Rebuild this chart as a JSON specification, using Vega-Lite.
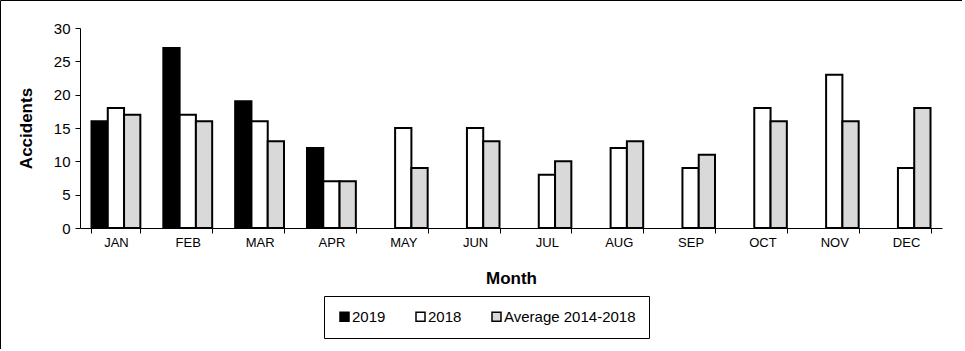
{
  "$schema": "https://vega.github.io/schema/vega-lite/v6.json",
  "width": 962,
  "height": 349,
  "autosize": {"type": "none"},
  "padding": 0,
  "background": "white",
  "data": {
    "values": [
      {"month": "JAN", "series": "2019", "value": 16},
      {"month": "JAN", "series": "2018", "value": 18},
      {"month": "JAN", "series": "Average 2014-2018", "value": 17},
      {"month": "FEB", "series": "2019", "value": 27},
      {"month": "FEB", "series": "2018", "value": 17},
      {"month": "FEB", "series": "Average 2014-2018", "value": 16},
      {"month": "MAR", "series": "2019", "value": 19},
      {"month": "MAR", "series": "2018", "value": 16},
      {"month": "MAR", "series": "Average 2014-2018", "value": 13},
      {"month": "APR", "series": "2019", "value": 12},
      {"month": "APR", "series": "2018", "value": 7},
      {"month": "APR", "series": "Average 2014-2018", "value": 7},
      {"month": "MAY", "series": "2018", "value": 15},
      {"month": "MAY", "series": "Average 2014-2018", "value": 9},
      {"month": "JUN", "series": "2018", "value": 15},
      {"month": "JUN", "series": "Average 2014-2018", "value": 13},
      {"month": "JUL", "series": "2018", "value": 8},
      {"month": "JUL", "series": "Average 2014-2018", "value": 10},
      {"month": "AUG", "series": "2018", "value": 12},
      {"month": "AUG", "series": "Average 2014-2018", "value": 13},
      {"month": "SEP", "series": "2018", "value": 9},
      {"month": "SEP", "series": "Average 2014-2018", "value": 11},
      {"month": "OCT", "series": "2018", "value": 18},
      {"month": "OCT", "series": "Average 2014-2018", "value": 16},
      {"month": "NOV", "series": "2018", "value": 23},
      {"month": "NOV", "series": "Average 2014-2018", "value": 16},
      {"month": "DEC", "series": "2018", "value": 9},
      {"month": "DEC", "series": "Average 2014-2018", "value": 18}
    ]
  },
  "mark": {"type": "bar", "stroke": "black", "strokeWidth": 2},
  "encoding": {
    "x": {
      "field": "month",
      "type": "nominal",
      "sort": ["JAN", "FEB", "MAR", "APR", "MAY", "JUN", "JUL", "AUG", "SEP", "OCT", "NOV", "DEC"],
      "scale": {"range": [80, 942], "paddingInner": 0.32, "paddingOuter": 0.16},
      "axis": {
        "title": "Month",
        "offset": -121,
        "labelAngle": 0,
        "tickBand": "extent",
        "labelFontSize": 13,
        "labelPadding": 3,
        "titleFontSize": 17,
        "titleFontWeight": "bold",
        "titlePadding": 21
      }
    },
    "xOffset": {
      "field": "series",
      "type": "nominal",
      "sort": ["2019", "2018", "Average 2014-2018"],
      "scale": {"domain": ["2019", "2018", "Average 2014-2018"], "paddingInner": 0, "paddingOuter": 0}
    },
    "y": {
      "field": "value",
      "type": "quantitative",
      "scale": {"domain": [0, 30], "range": [228, 28], "nice": false},
      "axis": {
        "title": "Accidents",
        "offset": -80,
        "values": [0, 5, 10, 15, 20, 25, 30],
        "grid": false,
        "labelFontSize": 15,
        "labelPadding": 5,
        "titleFontSize": 17,
        "titleFontWeight": "bold",
        "titlePadding": 18
      }
    },
    "fill": {
      "field": "series",
      "type": "nominal",
      "scale": {"domain": ["2019", "2018", "Average 2014-2018"], "range": ["black", "white", "#d9d9d9"]},
      "legend": {
        "orient": "none",
        "legendX": 324,
        "legendY": 296,
        "direction": "horizontal",
        "title": null,
        "strokeColor": "black",
        "fillColor": "white",
        "padding": 13,
        "labelFontSize": 15,
        "labelOffset": 0,
        "columnPadding": 27,
        "symbolType": "square",
        "symbolSize": 81,
        "symbolStrokeColor": "black",
        "symbolStrokeWidth": 1.5
      }
    }
  },
  "config": {
    "font": "Liberation Sans",
    "view": {"stroke": "black", "strokeWidth": 1},
    "axis": {
      "domainColor": "black",
      "tickColor": "black",
      "tickSize": 5,
      "labelColor": "black",
      "titleColor": "black",
      "grid": false
    },
    "legend": {"labelColor": "black"}
  }
}
